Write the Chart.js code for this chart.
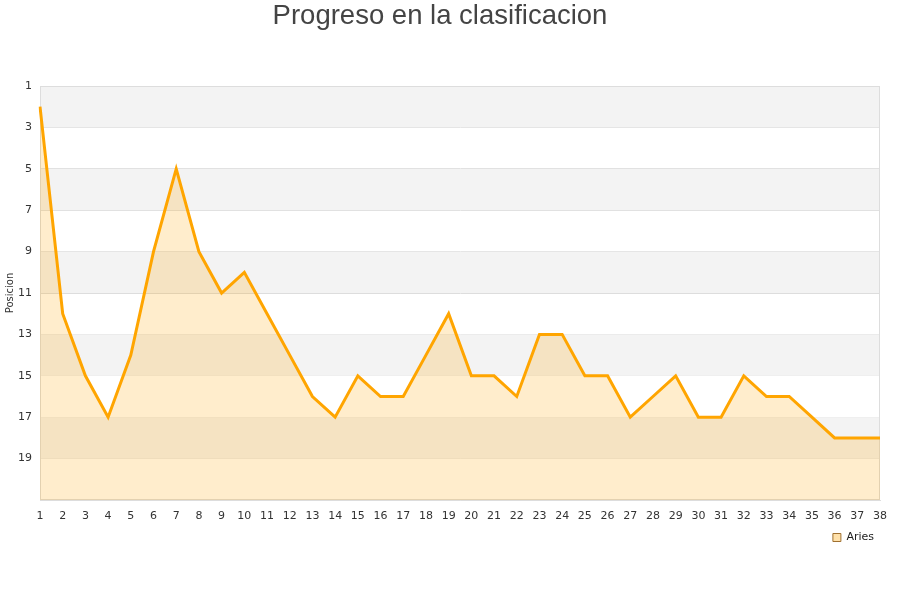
<!DOCTYPE html>
<html><head><meta charset="utf-8">
<script src="https://cdn.jsdelivr.net/npm/chart.js@4"></script>
<style>html,body{margin:0;padding:0;background:#fff}#w{width:900px;height:600px}</style>
</head><body><div id="w"><canvas id="c"></canvas></div>
<script>
const jornadas = ["1","2","3","4","5","6","7","8","9","10","11","12","13","14","15","16","17","18","19","20","21","22","23","24","25","26","27","28","29","30","31","32","33","34","35","36","37","38"];
const posicionAries = [2,12,15,17,14,9,5,9,11,10,12,14,16,17,15,16,16,14,12,15,15,16,13,13,15,15,17,16,15,17,17,15,16,16,17,18,18,18];
const yTicks = [1,3,5,7,9,11,13,15,17,19];

const bands = {
  id:'bands',
  beforeDatasetsDraw(chart){
    const {ctx, chartArea:a, scales:{y}} = chart;
    ctx.save();
    ctx.fillStyle = '#f3f3f3';
    for (let i=0;i<yTicks.length;i+=2){
      const y1 = y.getPixelForValue(yTicks[i]);
      const y2 = y.getPixelForValue(yTicks[i]+2);
      ctx.fillRect(a.left, y1, a.right-a.left, y2-y1);
    }
    ctx.strokeStyle = '#ddd';
    ctx.lineWidth = 1;
    ctx.strokeRect(a.left+0.5, a.top+0.5, a.right-a.left-1, a.bottom-a.top-1);
    ctx.restore();
  }
};
Chart.register(bands);

new Chart(document.getElementById('c'), {
  type:'line',
  data:{labels:jornadas, datasets:[{
    label:'Aries', data:posicionAries,
    borderColor:'#ffa500', borderWidth:3,
    backgroundColor:'rgba(255,165,0,0.2)',
    fill:'start', pointRadius:0, tension:0
  }]},
  options:{
    responsive:true, maintainAspectRatio:false, animation:false,
    layout:{padding:{left:0,right:20,top:0,bottom:47}},
    plugins:{
      title:{display:true,text:'Progreso en la clasificacion',color:'#444',
        font:{family:'Liberation Sans, Arial',size:27.5,weight:'normal'},padding:{top:0,bottom:53}},
      legend:{position:'bottom',align:'end',
        labels:{boxWidth:8,boxHeight:8,color:'#222',font:{family:'DejaVu Sans',size:11},padding:6,
          generateLabels:(c)=>[{text:'Aries',fillStyle:'rgba(255,225,170,1)',strokeStyle:'#a07030',lineWidth:1,fontColor:'#222'}]}},
      tooltip:{enabled:false}
    },
    scales:{
      x:{grid:{display:false},border:{color:'#ddd'},
        ticks:{color:'#333',font:{family:'DejaVu Sans',size:11},maxRotation:0,autoSkip:false,padding:2},
        afterFit(s){s.height=26;}},
      y:{reverse:true,min:1,max:21,
        afterBuildTicks(s){s.ticks=[...yTicks,21].map(v=>({value:v}));},
        ticks:{color:'#333',font:{family:'DejaVu Sans',size:11},padding:8,
          callback:(v)=>v===21?'':v},
        grid:{color:'#ddd',drawTicks:false},border:{color:'#ddd'},
        title:{display:true,text:'Posicion',color:'#333',font:{family:'DejaVu Sans',size:10},padding:{top:4,bottom:0}},
        afterFit(s){s.width=40;}}
    }
  }
});
</script></body></html>
